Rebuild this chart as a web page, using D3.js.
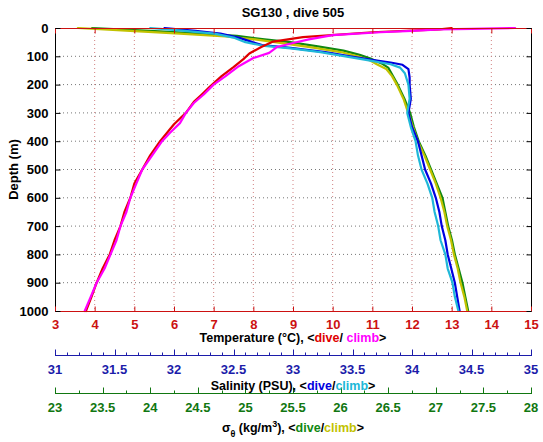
<!DOCTYPE html>
<html><head><meta charset="utf-8">
<script src="https://cdn.jsdelivr.net/npm/d3@7"></script>
<style>
body{margin:0;background:#fff;}
svg text{font-family:"Liberation Sans",Arial,Helvetica,sans-serif;font-weight:bold;}
</style></head>
<body><svg id="c" width="543" height="442"></svg>
<script>
// ---- data (depth in m, value) ----
const depthTicks = [0,100,200,300,400,500,600,700,800,900,1000];
const tempTicks = [3,4,5,6,7,8,9,10,11,12,13,14,15];
const salTicks = [31,31.5,32,32.5,33,33.5,34,34.5,35];
const sigTicks = [23,23.5,24,24.5,25,25.5,26,26.5,27,27.5,28];

const tempDiveDepth = [0,5,15,32,48,67,90,110,138,170,208,235,261,300,340,400,450,500,550,600,650,700,750,800,850,900,950,1000];
const tempDive =      [13.0,12.7,11.0,9.25,8.5,8.2,7.9,7.75,7.5,7.2,6.9,6.7,6.5,6.3,6.0,5.65,5.4,5.2,5.0,4.9,4.75,4.65,4.5,4.38,4.2,4.05,3.92,3.78];
const tempClimbDepth = [0,3,5,10,15,25,40,53,67,88,106,138,170,200,235,265,300,336,370,400,450,500,550,600,650,700,750,800,850,900,950,1000];
const tempClimb =      [14.6,13.5,12.7,12.0,11.2,10.0,9.4,9.0,8.6,8.4,8.0,7.6,7.3,7.0,6.75,6.5,6.3,6.15,5.9,5.7,5.45,5.2,5.05,4.9,4.8,4.65,4.55,4.4,4.25,4.05,3.9,3.75];

const salDiveDepth = [0,10,20,35,50,60,70,85,100,112,122,130,145,175,200,250,300,350,400,450,500,550,600,650,700,750,800,850,900,950,1000];
const salDive =      [31.92,32.18,32.39,32.55,32.66,32.74,32.98,33.27,33.48,33.65,33.82,33.92,33.97,33.98,33.98,33.99,33.97,34.00,34.05,34.08,34.11,34.16,34.20,34.23,34.25,34.28,34.30,34.33,34.36,34.38,34.40];
const salClimbDepth = [0,10,20,35,50,62,72,85,100,115,128,140,160,200,250,300,350,400,450,500,550,600,650,700,750,800,850,900,950,1000];
const salClimb =      [31.80,32.09,32.34,32.51,32.60,32.74,32.98,33.23,33.44,33.65,33.82,33.90,33.94,33.97,33.98,33.96,33.99,34.03,34.05,34.08,34.13,34.17,34.19,34.22,34.24,34.28,34.30,34.34,34.36,34.39];

const sigDiveDepth = [0,10,20,28,40,50,65,80,95,110,125,140,170,200,250,300,350,400,450,500,550,600,650,700,750,800,850,900,950,1000];
const sigDive =      [23.39,24.00,24.52,24.91,25.20,25.47,25.76,26.03,26.20,26.33,26.43,26.50,26.55,26.60,26.67,26.73,26.77,26.82,26.89,26.95,27.01,27.07,27.10,27.13,27.17,27.20,27.24,27.28,27.31,27.34];
const sigClimbDepth = [0,10,20,30,40,55,70,85,100,115,130,145,170,200,250,300,350,400,450,500,550,600,650,700,750,800,850,900,950,1000];
const sigClimb =      [23.24,23.79,24.31,24.79,25.10,25.42,25.73,26.00,26.18,26.31,26.39,26.48,26.54,26.59,26.66,26.71,26.76,26.81,26.88,26.94,27.00,27.05,27.09,27.12,27.16,27.19,27.23,27.26,27.30,27.33];

// ---- layout ----
const L=55,R=531,T=28,B=311;
const svg=d3.select("#c");
const y=d3.scaleLinear().domain([0,1000]).range([T,B]);
const xT=d3.scaleLinear().domain([3,15]).range([L,R]);
const xS=d3.scaleLinear().domain([31,35]).range([L,R]);
const xG=d3.scaleLinear().domain([23,28]).range([L,R]);

const cRed="#e00000", cMag="#ff00ff", cBlue="#0000e0", cCyan="#20b8d8", cGreen="#118811", cYel="#c2c200";
const cTempAx="#cc1111", cSalAx="#1c1caa", cSigAx="#117711";

// grid
const g=svg.append("g");
g.selectAll(".hg").data(depthTicks.slice(1,-1)).join("line")
  .attr("x1",L).attr("x2",R).attr("y1",d=>y(d)).attr("y2",d=>y(d))
  .attr("stroke","#777").attr("stroke-width",1).attr("stroke-dasharray","1,3");
g.selectAll(".vg").data(tempTicks.slice(1,-1)).join("line")
  .attr("x1",d=>xT(d)).attr("x2",d=>xT(d)).attr("y1",T).attr("y2",B)
  .attr("stroke","#d08080").attr("stroke-width",1).attr("stroke-dasharray","1,3");

// data lines
function series(depths, vals, xs, color){
  const pts=depths.map((d,i)=>[xs(vals[i]),y(d)]);
  svg.append("path").attr("d",d3.line()(pts)).attr("fill","none")
    .attr("stroke",color).attr("stroke-width",2.2).attr("stroke-linejoin","round").attr("stroke-linecap","round");
}
series(sigDiveDepth,sigDive,xG,cGreen);
series(sigClimbDepth,sigClimb,xG,cYel);
series(salDiveDepth,salDive,xS,cBlue);
series(salClimbDepth,salClimb,xS,cCyan);
series(tempDiveDepth,tempDive,xT,cRed);
series(tempClimbDepth,tempClimb,xT,cMag);

// frame
svg.append("line").attr("x1",L).attr("x2",R).attr("y1",T+0.5).attr("y2",T+0.5).attr("stroke",cTempAx);
svg.append("line").attr("x1",L).attr("x2",R).attr("y1",B+0.5).attr("y2",B+0.5).attr("stroke",cTempAx);
svg.append("line").attr("x1",L+0.5).attr("x2",L+0.5).attr("y1",T).attr("y2",B+0.5).attr("stroke","#000");
svg.append("line").attr("x1",R+0.5).attr("x2",R+0.5).attr("y1",T).attr("y2",B+0.5).attr("stroke","#000");

// temperature axis (bottom)
const axT=svg.append("g").attr("transform",`translate(0,${B+0.5})`)
  .call(d3.axisBottom(xT).tickValues(tempTicks).tickSize(-5).tickPadding(8).tickFormat(d3.format("d")));
axT.select(".domain").remove();
axT.selectAll("line").attr("stroke",cTempAx);
axT.selectAll("text").attr("fill",cTempAx).attr("font-size",13);
// top ticks
svg.append("g").attr("transform",`translate(0,${T+0.5})`)
  .call(d3.axisTop(xT).tickValues(tempTicks).tickSize(-5).tickFormat(""))
  .call(a=>{a.select(".domain").remove();a.selectAll("line").attr("stroke",cTempAx);});

// depth axis
const axY=svg.append("g").attr("transform",`translate(${L+0.5},0)`)
  .call(d3.axisLeft(y).tickValues(depthTicks).tickSize(-5).tickPadding(7).tickFormat(d3.format("d")));
axY.select(".domain").remove();
axY.selectAll("line").attr("stroke","#000");
axY.selectAll("text").attr("fill","#000").attr("font-size",13);
svg.append("g").attr("transform",`translate(${R+0.5},0)`)
  .call(d3.axisRight(y).tickValues(depthTicks).tickSize(-5).tickFormat(""))
  .call(a=>{a.select(".domain").remove();a.selectAll("line").attr("stroke","#000");});

// salinity axis
function extraAxis(scale,majors,minorStep,yPos,col){
  const ag=svg.append("g").attr("transform",`translate(0,${yPos+0.5})`);
  ag.append("line").attr("x1",L).attr("x2",R+1).attr("stroke",col);
  const [a,b]=scale.domain();
  const n=Math.round((b-a)/minorStep);
  const minors=d3.range(n+1).map(i=>+(a+i*minorStep).toFixed(3));
  ag.selectAll(".mn").data(minors).join("line")
    .attr("x1",d=>Math.round(scale(d))+0.5).attr("x2",d=>Math.round(scale(d))+0.5).attr("y1",0).attr("y2",-3).attr("stroke",col);
  ag.selectAll(".mj").data(majors).join("line")
    .attr("x1",d=>Math.round(scale(d))+0.5).attr("x2",d=>Math.round(scale(d))+0.5).attr("y1",0).attr("y2",-6).attr("stroke",col);
  ag.selectAll("text").data(majors).join("text")
    .attr("x",d=>scale(d)).attr("y",18).attr("text-anchor","middle")
    .attr("fill",col).attr("font-size",13).text(d=>d);
}
extraAxis(xS,salTicks,0.1,355,cSalAx);
extraAxis(xG,sigTicks,0.25,393,cSigAx);

// titles
const cx=(L+R)/2;
svg.append("text").attr("x",cx).attr("y",17).attr("text-anchor","middle").attr("font-size",13).attr("fill","#000").text("SG130 , dive 505");
svg.append("text").attr("transform",`translate(18,${(T+B)/2}) rotate(-90)`).attr("text-anchor","middle").attr("font-size",13).attr("fill","#000").text("Depth (m)");

function label(yPos, parts){
  const t=svg.append("text").attr("x",cx).attr("y",yPos).attr("text-anchor","middle").attr("font-size",12.5);
  parts.forEach(p=>{
    const s=t.append("tspan").attr("fill",p[1]).text(p[0]);
    if(p[2]) s.attr("baseline-shift",p[2]).attr("font-size",9);
  });
}
label(342,[["Temperature (°C), <","#000"],["dive","#e00000"],["/ ","#000"],["climb","#ff00ff"],[">","#000"]]);
label(390,[["Salinity (PSU), <","#000"],["dive","#0000e0"],["/","#000"],["climb","#20b8d8"],[">","#000"]]);
label(432,[["σ","#000"],["θ","#000","sub"],[" (kg/m","#000"],["3","#000","super"],["), <","#000"],["dive","#118811"],["/","#000"],["climb","#c2c200"],[">","#000"]]);
</script></body></html>
